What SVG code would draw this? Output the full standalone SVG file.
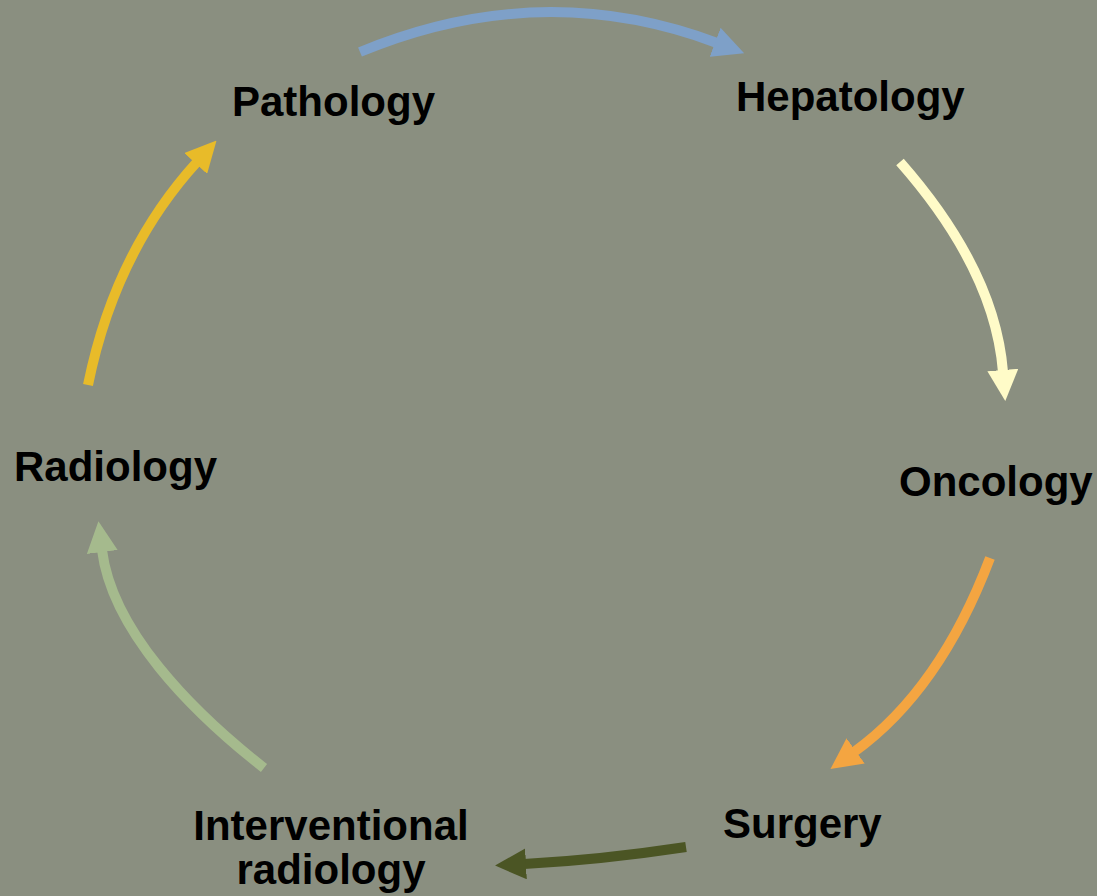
<svg xmlns="http://www.w3.org/2000/svg" width="1097" height="896" viewBox="0 0 1097 896">
  <style>
    .lbl { font-family: "Liberation Sans", Arial, sans-serif; font-weight: bold; font-size: 42px; fill: #000000; }
    .arc { fill: none; stroke-width: 10; }
  </style>
  <defs>
    <marker id="hBlue" viewBox="0 0 3.1 3.1" refX="0.2" refY="1.55" markerWidth="3.1" markerHeight="3.1" markerUnits="strokeWidth" orient="auto"><path d="M0,0 L3.1,1.55 L0,3.1 z" fill="#7ea0c8"/></marker>
    <marker id="hCream" viewBox="0 0 3.1 3.1" refX="0.2" refY="1.55" markerWidth="3.1" markerHeight="3.1" markerUnits="strokeWidth" orient="auto"><path d="M0,0 L3.1,1.55 L0,3.1 z" fill="#fffbc8"/></marker>
    <marker id="hOrange" viewBox="0 0 3.1 3.1" refX="0.2" refY="1.55" markerWidth="3.1" markerHeight="3.1" markerUnits="strokeWidth" orient="auto"><path d="M0,0 L3.1,1.55 L0,3.1 z" fill="#f4a541"/></marker>
    <marker id="hOlive" viewBox="0 0 3.1 3.1" refX="0.2" refY="1.55" markerWidth="3.1" markerHeight="3.1" markerUnits="strokeWidth" orient="auto"><path d="M0,0 L3.1,1.55 L0,3.1 z" fill="#4b5524"/></marker>
    <marker id="hGreen" viewBox="0 0 3.1 3.1" refX="0.2" refY="1.55" markerWidth="3.1" markerHeight="3.1" markerUnits="strokeWidth" orient="auto"><path d="M0,0 L3.1,1.55 L0,3.1 z" fill="#a5ba8d"/></marker>
    <marker id="hYellow" viewBox="0 0 3.1 3.1" refX="0.2" refY="1.55" markerWidth="3.1" markerHeight="3.1" markerUnits="strokeWidth" orient="auto"><path d="M0,0 L3.1,1.55 L0,3.1 z" fill="#e8bb29"/></marker>
  </defs>
  <rect x="0" y="0" width="1097" height="896" fill="#8a8f80"/>

  <g id="connectors">
    <path class="arc" d="M360,52 Q541,-23 717,43" stroke="#7ea0c8" marker-end="url(#hBlue)"/>
    <path class="arc" d="M900,162 Q995,270 1003,372" stroke="#fffbc8" marker-end="url(#hCream)"/>
    <path class="arc" d="M990,558 Q940,690 854,752" stroke="#f4a541" marker-end="url(#hOrange)"/>
    <path class="arc" d="M686,847 Q600,860 524,864" stroke="#4b5524" marker-end="url(#hOlive)"/>
    <path class="arc" d="M264,768 C190,710 112,630 102,550" stroke="#a5ba8d" marker-end="url(#hGreen)"/>
    <path class="arc" d="M88,385 Q115,252 197,162" stroke="#e8bb29" marker-end="url(#hYellow)"/>
  </g>

  <g id="pathology"><text class="lbl" x="232" y="116">Pathology</text></g>
  <g id="hepatology"><text class="lbl" x="736" y="111">Hepatology</text></g>
  <g id="oncology"><text class="lbl" x="899" y="496">Oncology</text></g>
  <g id="surgery"><text class="lbl" x="723" y="838">Surgery</text></g>
  <g id="interventional-radiology"><text class="lbl" text-anchor="middle" x="331" y="840">Interventional</text><text class="lbl" text-anchor="middle" x="331" y="884">radiology</text></g>
  <g id="radiology"><text class="lbl" x="14" y="481">Radiology</text></g>
</svg>
